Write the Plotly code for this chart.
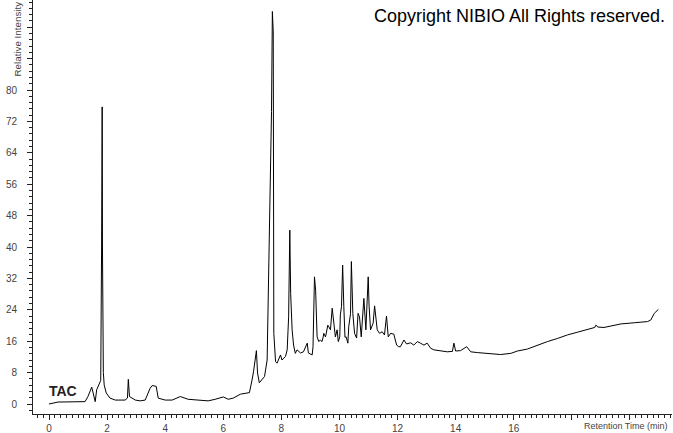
import plotly.graph_objects as go

# Retention time (min) and relative intensity of the TAC chromatogram
time_min = [
    0.00, 0.31, 1.24, 1.34, 1.47, 1.59, 1.64, 1.72, 1.78, 1.81, 1.83, 1.84, 1.855, 1.87, 1.90,
    1.97, 2.10, 2.28, 2.62, 2.70, 2.73, 2.77, 2.97, 3.14, 3.31, 3.48, 3.55, 3.69, 3.76,
    4.00, 4.24, 4.52, 4.79, 5.21, 5.48, 5.72, 6.00, 6.17, 6.34, 6.59, 6.90, 6.99, 7.04,
    7.14, 7.18, 7.24, 7.33, 7.42, 7.51, 7.56, 7.62, 7.66, 7.69, 7.72, 7.74, 7.80, 7.85,
    7.91, 7.97, 8.02, 8.14, 8.20, 8.25, 8.29, 8.32, 8.37, 8.42, 8.48, 8.54, 8.66, 8.76,
    8.89, 8.93, 9.06, 9.09, 9.14, 9.18, 9.23, 9.29, 9.34, 9.40, 9.44, 9.46, 9.52, 9.58,
    9.60, 9.63, 9.67, 9.69, 9.75, 9.80, 9.86, 9.92, 9.96, 10.01, 10.03, 10.07, 10.11,
    10.15, 10.19, 10.23, 10.29, 10.32, 10.38, 10.41, 10.46, 10.52, 10.59, 10.64, 10.69,
    10.75, 10.84, 10.91, 10.99, 11.02, 11.07, 11.16, 11.21, 11.30, 11.38, 11.47, 11.55,
    11.62, 11.68, 11.76, 11.87, 11.97, 12.04, 12.10, 12.22, 12.31, 12.45, 12.56, 12.68,
    12.79, 12.91, 13.02, 13.14, 13.25, 13.48, 13.71, 13.89, 13.94, 14.00, 14.17, 14.38,
    14.52, 14.75, 15.09, 15.55, 15.90, 16.13, 16.47, 16.82, 17.16, 17.51, 17.85, 18.20,
    18.54, 18.79, 18.83, 18.90, 19.11, 19.69, 20.15, 20.61, 20.72, 20.84, 20.98,
]
intensity = [
    0.0, 0.5, 0.6, 1.9, 4.3, 0.6, 3.6, 5.3, 6.0, 40.0, 75.7, 40.0, 25.7, 8.0, 4.8,
    2.8, 1.5, 1.0, 1.0, 1.5, 6.3, 1.9, 1.0, 0.8, 1.0, 4.0, 4.7, 4.5, 1.5,
    1.0, 1.0, 1.9, 1.2, 0.9, 0.8, 1.2, 1.8, 1.2, 1.5, 2.5, 2.9, 6.1, 8.2,
    13.6, 7.9, 5.4, 6.1, 7.0, 11.2, 29.9, 58.8, 74.5, 100.0, 94.8, 18.0, 10.8, 10.4,
    11.6, 12.5, 11.2, 12.1, 13.8, 22.2, 44.3, 28.2, 18.9, 15.0, 12.9, 13.8, 13.0, 13.3,
    15.5, 13.0, 12.5, 14.6, 32.4, 29.0, 17.1, 15.9, 16.3, 15.9, 17.1, 18.0, 17.1, 18.9,
    20.1, 19.7, 19.3, 18.9, 24.4, 20.1, 17.1, 18.9, 15.9, 17.1, 22.7, 24.8, 35.4,
    24.8, 17.0, 17.1, 15.5, 19.7, 23.0, 36.3, 23.1, 18.0, 16.8, 23.1, 22.2,
    17.1, 26.9, 18.9, 32.4, 25.0, 18.9, 20.6, 25.0, 18.9, 18.0, 18.4, 17.6,
    22.4, 17.1, 18.0, 17.8, 15.0, 14.6, 14.6, 16.3, 15.3, 15.6, 15.0, 15.9,
    15.5, 15.0, 15.5, 14.2, 13.8, 13.6, 13.3, 13.4, 15.5, 13.5, 13.6, 14.6,
    13.3, 13.1, 12.9, 12.6, 12.9, 13.5, 14.0, 15.0, 15.9, 16.7, 17.6, 18.3,
    18.9, 19.5, 20.1, 19.6, 19.5, 20.4, 20.7, 21.0, 21.4, 23.1, 24.1,
]

x_tick_vals = [0, 2, 4, 6, 8, 10, 12, 14, 16, 18, 20]
x_tick_text = ["0", "2", "4", "6", "8", "10", "12", "14", "16", "", ""]
y_tick_vals = [0, 8, 16, 24, 32, 40, 48, 56, 64, 72, 80, 88, 96]
y_tick_text = ["0", "8", "16", "24", "32", "40", "48", "56", "64", "72", "80", "", ""]

FONT = "Liberation Sans, Arial, sans-serif"
AXIS_COLOR = "#222222"
LABEL_COLOR = "#444444"

fig = go.Figure(
    go.Scatter(
        x=time_min,
        y=intensity,
        mode="lines",
        line=dict(color="black", width=1),
        hoverinfo="skip",
    )
)

fig.update_layout(
    width=673,
    height=433,
    margin=dict(l=33, r=1, t=0, b=19),
    paper_bgcolor="white",
    plot_bgcolor="white",
    showlegend=False,
    font=dict(family=FONT, size=10, color=LABEL_COLOR),
)

fig.update_xaxes(
    range=[-0.552, 21.45],
    showgrid=False,
    zeroline=False,
    showline=True,
    linecolor=AXIS_COLOR,
    linewidth=1,
    ticks="outside",
    ticklen=5,
    tickcolor=AXIS_COLOR,
    tickvals=x_tick_vals,
    ticktext=x_tick_text,
    tickfont=dict(family=FONT, size=10, color=LABEL_COLOR),
    minor=dict(dtick=0.2, tick0=0, ticks="outside", ticklen=3, tickcolor=AXIS_COLOR),
    automargin=False,
)

fig.update_yaxes(
    range=[-2.548, 102.93],
    showgrid=False,
    zeroline=False,
    showline=True,
    linecolor=AXIS_COLOR,
    linewidth=1,
    ticks="outside",
    ticklen=5,
    tickcolor=AXIS_COLOR,
    tickvals=y_tick_vals,
    ticktext=y_tick_text,
    ticklabelstandoff=8,
    tickfont=dict(family=FONT, size=10, color=LABEL_COLOR),
    minor=dict(dtick=1.6, tick0=0, ticks="outside", ticklen=3, tickcolor=AXIS_COLOR),
    automargin=False,
)

# Text annotations
fig.add_annotation(
    text="Copyright NIBIO All Rights reserved.",
    xref="paper", yref="paper", x=1.0, y=1.0,
    xshift=-5, yshift=-4,
    xanchor="right", yanchor="top", showarrow=False,
    font=dict(family=FONT, size=18, color="black"),
)
fig.add_annotation(
    text="Retention Time (min)",
    xref="paper", yref="paper", x=1.0, y=0.0,
    xshift=-2, yshift=-5,
    xanchor="right", yanchor="top", showarrow=False,
    font=dict(family=FONT, size=9, color=LABEL_COLOR),
)
fig.add_annotation(
    text="Relative Intensity",
    xref="paper", yref="paper", x=0.0, y=1.0,
    xshift=-16, yshift=-79,
    xanchor="center", yanchor="bottom", textangle=-90, showarrow=False,
    font=dict(family=FONT, size=9.8, color=LABEL_COLOR),
)
fig.add_annotation(
    text="<b>TAC</b>",
    xref="x", yref="y", x=-0.07, y=3.3,
    xanchor="left", yanchor="middle", showarrow=False,
    font=dict(family=FONT, size=14, color="#222222"),
)

fig.write_html(
    "out.html",
    config={"displayModeBar": False},
    post_script="document.body.style.margin='0px';document.body.style.padding='0px';",
)
